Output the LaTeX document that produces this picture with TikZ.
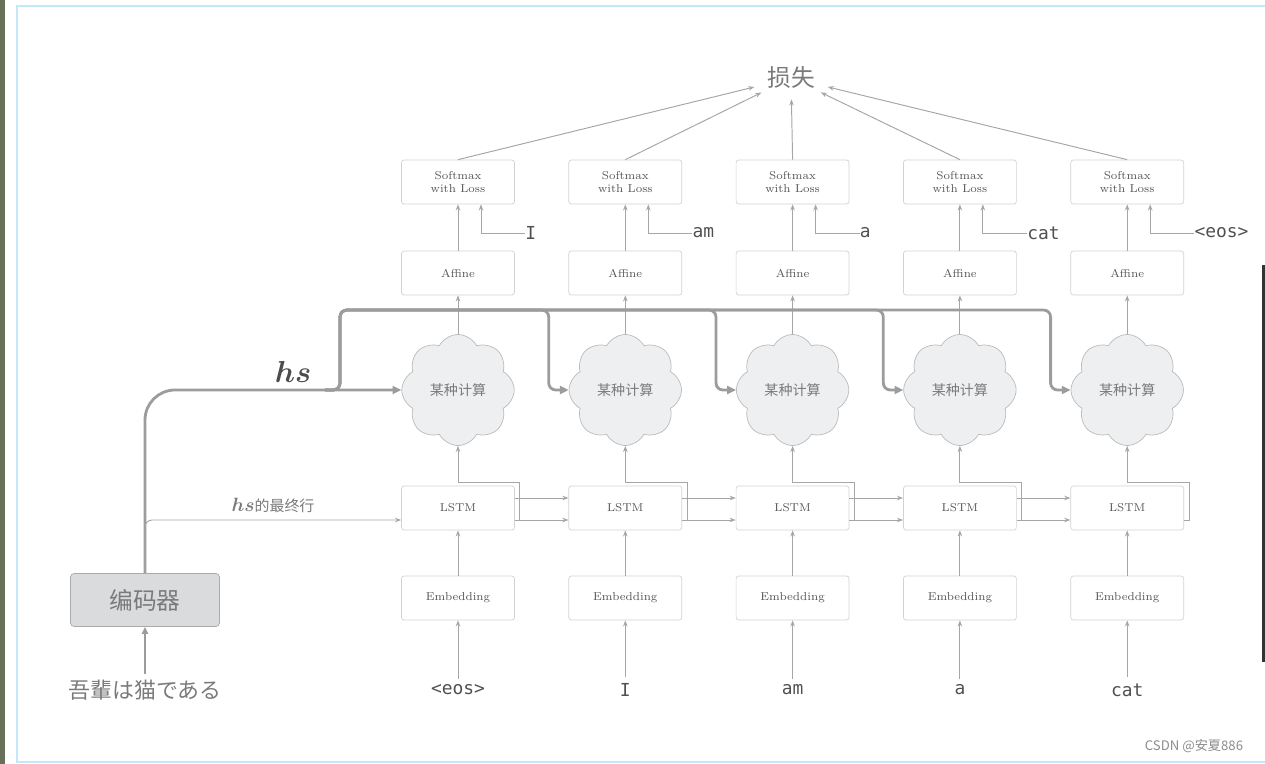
\documentclass[tikz,border=0pt]{standalone}
\usepackage{fontspec}
\usepackage{amsmath}
\usepackage{xcolor}
\usepackage{tikz}
\usetikzlibrary{arrows.meta,positioning,shapes.geometric,shapes.symbols,calc}
\newfontfamily\zhfont{Noto Sans CJK SC}
\newfontfamily\jafont{Noto Sans CJK JP}
\newfontfamily\monofont{DejaVu Sans Mono}
\definecolor{ln}{HTML}{A6A6A6}
\definecolor{hsc}{HTML}{9C9C9C}
\definecolor{boxc}{HTML}{D2D2D2}
\definecolor{boxt}{HTML}{555555}
\definecolor{txt}{HTML}{7A7A7A}
\definecolor{cldc}{HTML}{BBBBBB}
\definecolor{cldf}{HTML}{EDEFF1}
\definecolor{encf}{HTML}{D9DBDD}
\definecolor{encb}{HTML}{ABABAB}
\definecolor{wordc}{HTML}{505050}
\definecolor{strip}{HTML}{687058}
\definecolor{frame}{HTML}{C3E8F7}

\begin{document}
\begin{tikzpicture}[x=0.02cm,y=-0.02cm,>=Stealth,
  lay/.style={draw=boxc,rounded corners=1.5pt,minimum width=2.26cm,minimum height=0.88cm,align=center,inner sep=1pt,text=boxt,font=\fontsize{6.5}{7.5}\selectfont},
  cmp/.style={cloud,cloud puffs=8,cloud puff arc=125,draw=cldc,fill=cldf,minimum width=2.25cm,minimum height=2.05cm,text=txt,font=\zhfont\fontsize{8}{9}\selectfont},
  ar/.style={->,draw=ln,line width=0.55pt,>={Stealth[length=3.5pt,width=2.6pt]}},
  hsl/.style={->,draw=hsc,line width=1.6pt,rounded corners=4pt,>={Triangle[length=5pt,width=4.5pt]}},
  wd/.style={text=wordc,font=\monofont\fontsize{10.2}{12}\selectfont}]
  % screenshot frame
  \useasboundingbox (0,0) rectangle (1265,764);
  \fill[strip] (0,0) rectangle (5,764);
  \draw[frame,line width=0.05cm] (17,6) rectangle (1280,762);
  \fill[black!80] (1262,265) rectangle (1265,662);
  \node[ellipse,minimum width=1.6cm,minimum height=0.84cm,inner sep=0pt,text=txt,font=\zhfont\fontsize{13.5}{14}\selectfont] (loss) at (791,78) {损失};
  % decoder columns
  \foreach \i/\x/\w/\t in {1/458/{<eos>}/I,2/625.3/I/am,3/792.6/am/a,4/959.9/a/cat,5/1127.2/cat/{<eos>}} {
    \node[lay] (sm\i) at (\x,182) {Softmax\\with Loss};
    \node[lay] (af\i) at (\x,273) {Affine};
    \node[cmp] (cl\i) at (\x,390) {某种计算};
    \node[lay] (ls\i) at (\x,508) {LSTM};
    \node[lay] (em\i) at (\x,598) {Embedding};
    \node[wd] (in\i) at (\x,690) {\w};
    \node[wd,anchor=west,inner sep=0pt] (lb\i) at ({\x+67},233) {\t};
    \draw[ar] (sm\i.north) -- (loss);
    \draw[ar] (af\i) -- (sm\i);
    \draw[ar] (lb\i.west) -| ($(sm\i.south)+(23,0)$);
    \draw[ar] (cl\i) -- (af\i);
    \draw[ar] ($(ls\i.east)+(0,12)$) -- ++(5,0) |- ($(cl\i.south)+(0,37)$) -- (cl\i.south);
    \draw[ar] (em\i) -- (ls\i);
    \draw[ar] (in\i) -- (em\i);
  }
  \foreach \i/\j in {1/2,2/3,3/4,4/5} {
    \draw[ar] ($(ls\i.east)+(0,-10)$) -- ($(ls\j.west)+(0,-10)$);
    \draw[ar] ($(ls\i.east)+(0,12)$) -- ($(ls\j.west)+(0,12)$);
  }
  % encoder and hs
  \node[draw=encb,fill=encf,rounded corners=2pt,minimum width=2.98cm,minimum height=1.06cm,text=txt,font=\zhfont\fontsize{13.5}{15}\selectfont] (enc) at (145,600) {编码器};
  \node[text=txt,font=\jafont\fontsize{12.5}{14}\selectfont] (src) at (145,690) {吾輩は猫である};
  \draw[->,draw=hsc,line width=1pt,>={Triangle[length=4pt,width=3.5pt]}] (src) -- (enc);
  \draw[hsl,rounded corners=0.6cm] (enc) |- (cl1);
  \coordinate (hsup) at (325,390);
  \foreach \i in {2,...,5}
    \draw[hsl] (hsup) -| ($(hsup)+(15,-80)$) -| ($(cl\i.west)+(-20,0)$) -- (cl\i.west);
  \draw[ar,rounded corners=4pt] (enc) |- ($(ls1.west)+(0,12)$);
  \node[text=black!70,font=\fontsize{17.28}{19}\selectfont] (hslab) at (293,372) {$\boldsymbol{hs}$};
  \node[text=txt] (hsfin) at (273,505) {\fontsize{10.95}{12}\selectfont$\boldsymbol{hs}$\zhfont\fontsize{8.5}{10}\selectfont 的最终行};
  \node[text=black!45,font=\zhfont\fontsize{7.5}{8}\selectfont] (mark) at (1194,746) {CSDN @安夏886};
\end{tikzpicture}
\end{document}
